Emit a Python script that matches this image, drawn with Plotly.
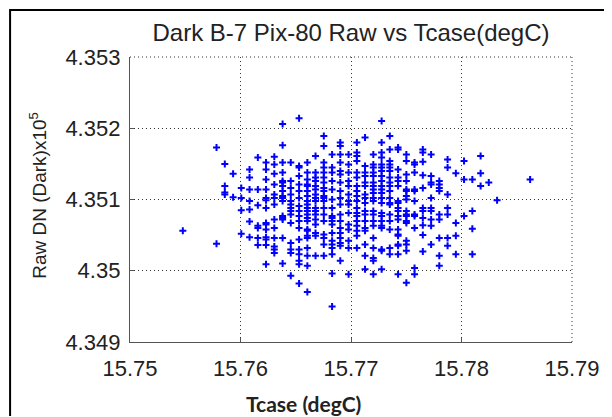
import plotly.graph_objects as go

# Temperature (degC) of each quantized column of samples
temps = [15.75478, 15.75783, 15.75858, 15.75933, 15.76007, 15.76082, 15.76157,
         15.76231, 15.76306, 15.76381, 15.76455, 15.76530, 15.76605, 15.76679,
         15.76754, 15.76829, 15.76903, 15.76978, 15.77053, 15.77127, 15.77202,
         15.77277, 15.77351, 15.77426, 15.77501, 15.77575, 15.77650, 15.77725,
         15.77799, 15.77874, 15.77949, 15.78023, 15.78098, 15.78173, 15.78247,
         15.78322, 15.78621]

# Raw DN values (dark) for each temperature column
raw_dn = [
    [435056],
    [435173, 435038],
    [435150, 435119, 435110, 435107],
    [435136, 435103],
    [435116, 435102, 435085, 435052],
    [435142, 435131, 435114, 435098, 435086, 435069, 435047],
    [435159, 435114, 435092, 435063, 435060, 435046, 435036],
    [435152, 435142, 435128, 435114, 435102, 435099, 435088, 435067, 435065, 435058, 435047, 435044, 435036, 435009],
    [435160, 435149, 435136, 435121, 435107, 435102, 435093, 435072, 435060, 435046, 435034, 435030, 435025],
    [435206, 435176, 435152, 435138, 435126, 435124, 435119, 435112, 435105, 435102, 435098, 435077, 435074, 435072, 435046, 435010],
    [435152, 435126, 435116, 435107, 435098, 435093, 435088, 435084, 435079, 435067, 435039, 435030, 435025, 434993],
    [435214, 435147, 435145, 435133, 435121, 435112, 435102, 435091, 435084, 435077, 435070, 435060, 435044, 435030, 435023, 435014, 435009, 434982],
    [435152, 435138, 435128, 435121, 435119, 435112, 435105, 435098, 435093, 435088, 435084, 435079, 435074, 435070, 435058, 435056, 435049, 435046, 435032, 435021, 435007, 434970],
    [435161, 435138, 435131, 435126, 435119, 435114, 435107, 435102, 435098, 435088, 435084, 435079, 435072, 435065, 435053, 435049, 435021],
    [435189, 435175, 435152, 435145, 435138, 435131, 435124, 435116, 435112, 435105, 435102, 435098, 435088, 435079, 435070, 435051, 435046, 435037, 435021],
    [435163, 435145, 435138, 435126, 435114, 435100, 435088, 435077, 435074, 435070, 435065, 435053, 435042, 435037, 435032, 435023, 434996, 434950],
    [435180, 435175, 435163, 435152, 435140, 435135, 435124, 435112, 435102, 435093, 435079, 435070, 435060, 435053, 435046, 435039, 435035, 435014],
    [435163, 435149, 435138, 435126, 435119, 435107, 435098, 435093, 435081, 435065, 435058, 435042, 435032, 434995],
    [435180, 435166, 435161, 435154, 435138, 435131, 435119, 435112, 435105, 435098, 435088, 435081, 435077, 435070, 435063, 435056, 435049, 435032],
    [435187, 435147, 435138, 435133, 435124, 435119, 435107, 435102, 435095, 435084, 435079, 435070, 435060, 435056, 435037, 435021, 435002],
    [435163, 435149, 435145, 435138, 435133, 435124, 435119, 435114, 435109, 435102, 435098, 435084, 435079, 435070, 435063, 435046, 435032, 435018, 435014, 434995],
    [435210, 435180, 435166, 435159, 435149, 435145, 435140, 435133, 435126, 435119, 435114, 435109, 435102, 435095, 435081, 435077, 435070, 435063, 435060, 435030, 435028, 435002],
    [435189, 435170, 435154, 435149, 435145, 435140, 435131, 435124, 435119, 435112, 435102, 435095, 435093, 435079, 435070, 435058, 435032, 435023],
    [435173, 435170, 435142, 435131, 435126, 435119, 435098, 435095, 435088, 435084, 435077, 435072, 435058, 435051, 435049, 435037, 435035, 435023, 434995],
    [435163, 435154, 435135, 435126, 435114, 435112, 435105, 435100, 435084, 435079, 435077, 435070, 435067, 435042, 435037, 435028, 434983],
    [435152, 435149, 435138, 435114, 435112, 435098, 435079, 435077, 435060, 435004, 434995],
    [435170, 435166, 435153, 435134, 435116, 435088, 435084, 435074, 435064, 435050, 435027],
    [435163, 435133, 435124, 435121, 435102, 435088, 435084, 435072, 435063, 435037],
    [435126, 435121, 435116, 435112, 435079, 435072, 435046, 435021, 435007],
    [435156, 435145, 435107, 435088, 435079, 435046, 435035],
    [435137, 435067, 435049, 435023],
    [435154, 435128, 435077],
    [435128, 435084, 435059, 435023],
    [435161, 435137, 435119],
    [435124],
    [435099],
    [435128],
]

x_ticks = [15.75, 15.76, 15.77, 15.78, 15.79]
x_ticktext = ["15.75", "15.76", "15.77", "15.78", "15.79"]
y_ticks = [4.349, 4.350, 4.351, 4.352, 4.353]
y_ticktext = ["4.349", "4.35", "4.351", "4.352", "4.353"]

xs, ys = [], []
for t, col in zip(temps, raw_dn):
    for v in col:
        xs.append(t)
        ys.append(v / 1e5)

fig = go.Figure()
fig.add_trace(go.Scatter(
    x=xs, y=ys, mode="markers",
    marker=dict(symbol="cross-thin", size=5, color="#0000ff",
                line=dict(color="#0000ff", width=2)),
    showlegend=False, hoverinfo="skip",
))

# page offset of the figure (default body margin)
OFF = 8
W, H = 612 - OFF, 417 - OFF
L, R, T, B = 130 - OFF, 36, 57 - OFF, 75
pw, ph = W - L - R, H - T - B

def px(x):
    return (x - OFF - L) / pw

def py(y):
    return (H - B - (y - OFF)) / ph

axis_common = dict(
    showline=True, linecolor="#555555", linewidth=1.3,
    ticks="inside", ticklen=4, tickcolor="#555555",
    showgrid=True, gridcolor="#333333", gridwidth=1, griddash="1px,3px",
    zeroline=False, mirror=False,
    tickfont=dict(family="Liberation Sans, Arial", size=22, color="#222222"),
)

grid_dot = dict(color="#333333", width=1, dash="1px,3px")

frame_path = (f"M {px(9):.5f},{py(416):.5f} L {px(9):.5f},{py(10):.5f} "
              f"L {px(611):.5f},{py(10):.5f}")

fig.update_layout(
    width=W, height=H,
    margin=dict(l=L, r=R, t=T, b=B),
    paper_bgcolor="white", plot_bgcolor="white",
    title=dict(text="Dark B-7 Pix-80 Raw vs Tcase(degC)",
               font=dict(family="Liberation Sans, Arial", size=24, color="#222222"),
               x=0.5, xref="paper", xanchor="center",
               y=1 - (33 - OFF) / H, yref="container", yanchor="middle"),
    xaxis=dict(range=[15.75, 15.79], tickvals=x_ticks, ticktext=x_ticktext,
               ticklabelstandoff=6, **axis_common),
    yaxis=dict(range=[4.349, 4.353], tickvals=y_ticks, ticktext=y_ticktext,
               ticklabelstandoff=4, **axis_common),
    annotations=[
        dict(text="Raw DN (Dark)x10<sup>5</sup>", textangle=-90,
             xref="paper", yref="paper", x=px(37), y=py(195),
             xanchor="center", yanchor="middle", showarrow=False,
             font=dict(family="Liberation Sans, Arial", size=19, color="#222222")),
        dict(text="<b>Tcase (degC)</b>",
             xref="paper", yref="paper", x=px(305), y=py(403),
             xanchor="center", yanchor="middle", showarrow=False,
             font=dict(family="Lato", size=21, color="#222222")),
    ],
    shapes=[
        dict(type="line", xref="paper", yref="paper",
             x0=0, x1=1, y0=1, y1=1, line=grid_dot, layer="below"),
        dict(type="line", xref="paper", yref="paper",
             x0=1, x1=1, y0=0, y1=1, line=grid_dot, layer="below"),
        dict(type="path", xref="paper", yref="paper", path=frame_path,
             line=dict(color="black", width=2)),
    ],
)

fig.write_html("out.html")
